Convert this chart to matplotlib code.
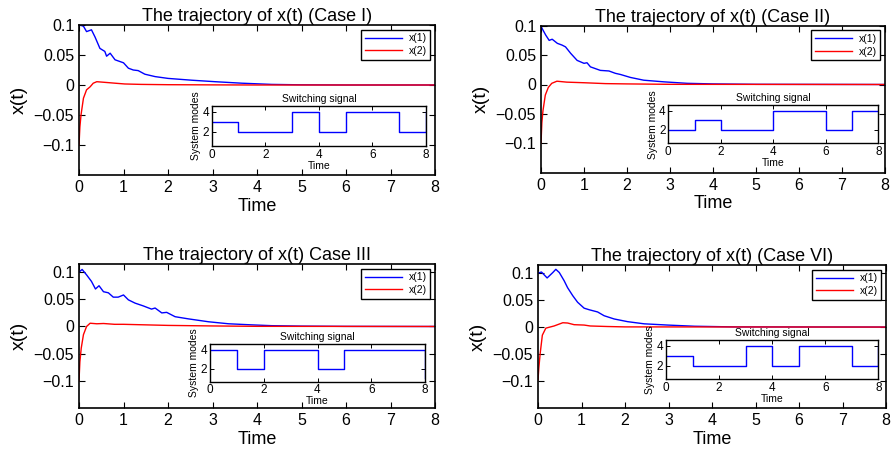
import matplotlib
matplotlib.use("Agg")
import matplotlib.pyplot as plt

plt.rcParams['font.family'] = ['Liberation Sans', 'DejaVu Sans']

titles = ["The trajectory of x(t) (Case I)", "The trajectory of x(t) (Case II)",
          "The trajectory of x(t) Case III", "The trajectory of x(t) (Case VI)"]

# x(1) trajectories
t_a1 = [0, 0.02, 0.1, 0.17, 0.28, 0.36, 0.47, 0.58, 0.62, 0.70, 0.81, 1.0, 1.11, 1.22,
        1.33, 1.48, 1.71, 2.0, 2.53, 3.06, 3.66, 4.33, 5.0, 6.0, 8.0]
x_a1 = [0.098, 0.1, 0.098, 0.089, 0.092, 0.080, 0.061, 0.056, 0.048, 0.053, 0.042, 0.037,
        0.028, 0.025, 0.024, 0.018, 0.014, 0.011, 0.008, 0.0055, 0.003, 0.001, 0.0003, 0, 0]
t_b1 = [0, 0.05, 0.11, 0.19, 0.26, 0.38, 0.49, 0.57, 0.69, 0.84, 1.0, 1.07, 1.15, 1.38,
        1.58, 1.73, 1.85, 2.08, 2.39, 2.86, 3.4, 4.0, 5.0, 8.0]
x_b1 = [0.099, 0.092, 0.084, 0.075, 0.077, 0.070, 0.067, 0.064, 0.053, 0.041, 0.036, 0.037,
        0.030, 0.024, 0.023, 0.019, 0.017, 0.012, 0.0073, 0.0045, 0.002, 0.001, 0.0003, 0]
t_c1 = [0, 0.07, 0.17, 0.28, 0.37, 0.45, 0.55, 0.66, 0.77, 0.88, 1.0, 1.11, 1.26, 1.44,
        1.63, 1.71, 1.86, 1.97, 2.16, 2.46, 2.91, 3.36, 3.88, 4.33, 5.0, 6.0, 8.0]
x_c1 = [0.1, 0.105, 0.095, 0.083, 0.069, 0.075, 0.064, 0.062, 0.054, 0.054, 0.058, 0.049,
        0.043, 0.038, 0.032, 0.034, 0.025, 0.026, 0.018, 0.014, 0.0087, 0.005, 0.003,
        0.0015, 0.0007, 0.0002, 0]
t_d1 = [0, 0.08, 0.21, 0.34, 0.41, 0.49, 0.60, 0.68, 0.80, 0.91, 1.06, 1.18, 1.37, 1.52,
        1.75, 2.06, 2.44, 2.98, 3.6, 4.5, 8.0]
x_d1 = [0.1, 0.102, 0.091, 0.101, 0.107, 0.101, 0.086, 0.073, 0.058, 0.046, 0.035, 0.032,
        0.028, 0.021, 0.015, 0.010, 0.006, 0.0037, 0.0015, 0.0003, 0]

# x(2) trajectories
t_a2 = [0, 0.02, 0.045, 0.1, 0.17, 0.25, 0.32, 0.40, 0.65, 0.81, 1.03, 1.4, 2.0, 3.0, 4.0, 8.0]
x_a2 = [-0.1, -0.07, -0.05, -0.022, -0.008, -0.003, 0.003, 0.0055, 0.004, 0.003, 0.0017,
        0.001, 0.0005, 0.0002, 0, 0]
t_b2 = [0, 0.02, 0.045, 0.1, 0.17, 0.25, 0.37, 0.6, 1.0, 1.5, 2.0, 3.0, 8.0]
x_b2 = [-0.1, -0.065, -0.045, -0.018, -0.005, 0.002, 0.0056, 0.004, 0.003, 0.0015, 0.001,
        0.0003, 0]
t_c2 = [0, 0.02, 0.05, 0.1, 0.17, 0.25, 0.4, 0.55, 0.8, 1.0, 1.5, 2.0, 3.0, 4.0, 8.0]
x_c2 = [-0.1, -0.065, -0.04, -0.015, 0.0, 0.006, 0.005, 0.0055, 0.004, 0.004, 0.003, 0.002,
        0.001, 0.0003, 0]
t_d2 = [0, 0.02, 0.05, 0.1, 0.18, 0.37, 0.57, 0.68, 0.83, 1.06, 1.2, 1.6, 2.0, 8.0]
x_d2 = [-0.098, -0.075, -0.049, -0.015, -0.002, 0.002, 0.008, 0.0075, 0.0044, 0.0037, 0.002,
        0.001, 0.0003, 0]

# switching signals
sw_t = [[0, 1, 3, 4, 5, 7, 8], [0, 1, 2, 4, 6, 7, 8], [0, 1, 2, 4, 5, 8], [0, 1, 3, 4, 5, 7, 8]]
sw_m = [[3, 2, 4, 2, 4, 2, 4], [2, 3, 2, 4, 2, 4, 4], [4, 2, 4, 2, 4, 1], [3, 2, 4, 2, 4, 2, 4]]

curves = [(t_a1, x_a1, t_a2, x_a2), (t_b1, x_b1, t_b2, x_b2),
          (t_c1, x_c1, t_c2, x_c2), (t_d1, x_d1, t_d2, x_d2)]

W, H = 893, 457
def px(l, t, r, b):
    return [l / W, (H - b) / H, (r - l) / W, (b - t) / H]

main_pos = [px(79, 25, 435, 175), px(541, 25.7, 885, 172.7),
            px(79, 264, 435, 408), px(538, 265, 886, 408)]
inset_pos = [px(211.7, 106, 426, 146), px(668.3, 105, 878.3, 143.3),
             px(210, 344, 425, 381.7), px(666, 340, 878.3, 379.3)]
ylims = [(-0.15, 0.1), (-0.15, 0.1), (-0.15, 0.115), (-0.15, 0.115)]

fig = plt.figure(figsize=(8.93, 4.57), dpi=100)

for i in range(4):
    ax = fig.add_axes(main_pos[i])
    ta, xa, tb, xb = curves[i]
    ax.plot(ta, xa, color='blue', lw=1.0, label='x(1)')
    ax.plot(tb, xb, color='red', lw=1.0, label='x(2)')
    ax.set_xlim(0, 8)
    ax.set_ylim(*ylims[i])
    ax.set_xticks(range(9))
    ax.set_yticks([-0.1, -0.05, 0, 0.05, 0.1])
    ax.set_yticklabels(['\u22120.1', '\u22120.05', '0', '0.05', '0.1'])
    ax.tick_params(direction='in', top=True, right=True, labelsize=11.5, length=4, width=0.8)
    for s in ax.spines.values():
        s.set_linewidth(1.2)
    ax.set_title(titles[i], fontsize=13, pad=3)
    ax.set_xlabel('Time', fontsize=13, labelpad=2)
    ax.set_ylabel('x(t)', fontsize=14, labelpad=4)
    leg = ax.legend(loc='upper right', fontsize=7.5, handlelength=3.6, fancybox=False,
                    framealpha=1, edgecolor='black', borderaxespad=0.45,
                    borderpad=0.35, labelspacing=0.25, handletextpad=0.6)
    leg.get_frame().set_linewidth(1.0)

    ins = fig.add_axes(inset_pos[i])
    ins.plot(sw_t[i], sw_m[i], color='blue', lw=1.0, drawstyle='steps-post')
    ins.set_xlim(0, 8)
    ins.set_ylim(0.6, 4.6)
    ins.set_xticks([0, 2, 4, 6, 8])
    ins.set_yticks([2, 4])
    ins.tick_params(direction='in', top=True, right=True, labelsize=8.5, length=3,
                    width=0.7, pad=2)
    for s in ins.spines.values():
        s.set_linewidth(1.0)
    ins.set_title('Switching signal', fontsize=7.5, pad=3)
    ins.set_xlabel('Time', fontsize=7.5, labelpad=0)
    ins.set_ylabel('System modes', fontsize=7.5, labelpad=1)

fig.savefig('out.png', dpi=100)
